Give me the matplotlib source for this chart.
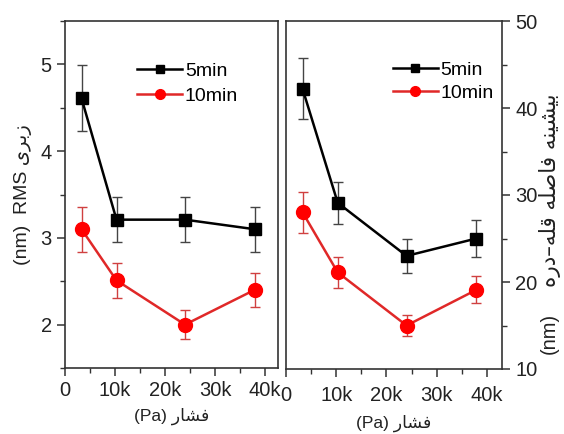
import numpy as np
import matplotlib
matplotlib.use("Agg")
import matplotlib.pyplot as plt
from matplotlib.ticker import MultipleLocator, FuncFormatter

plt.rcParams['font.family'] = ['Liberation Sans', 'DejaVu Sans']

# pressure (Pa)
pressure = [3300, 10300, 24000, 37900]

# RMS roughness (nm)
rms_5min = [4.61, 3.21, 3.21, 3.10]
rms_5min_err = [0.38, 0.26, 0.26, 0.26]
rms_10min = [3.10, 2.51, 2.00, 2.40]
rms_10min_err = [0.26, 0.20, 0.17, 0.20]

# max peak-to-valley distance (nm)
pv_5min = [42.2, 29.1, 23.0, 25.0]
pv_5min_err = [3.5, 2.45, 2.0, 2.1]
pv_10min = [28.0, 21.1, 15.0, 19.1]
pv_10min_err = [2.35, 1.75, 1.25, 1.55]

series_labels = ['5min', '10min']

# Persian labels in visual (pre-shaped) order
xlabel_txt = '(Pa) \uFEAD\uFE8E\uFEB8\uFED3'
ylabel_left = '(nm)  RMS \uFBFC\uFEAE\uFE91\uFEAF'
ylabel_right_fa = ('\uFEE9\uFEAD\uFEA9\u2013\uFEEA\uFEE0\uFED7 '
                   '\uFEEA\uFEE0\uFEBB\uFE8E\uFED3 '
                   '\uFEEA\uFEE8\uFBFF\uFEB8\uFBFF\uFE91')
ylabel_right_unit = '(nm)'

fig = plt.figure(figsize=(5.64, 4.34), dpi=100)
ax1 = fig.add_axes([65 / 564, 66 / 434, 212.5 / 564, 347 / 434])
ax2 = fig.add_axes([286 / 564, 65 / 434, 216 / 564, 348 / 434])

kfmt = FuncFormatter(lambda v, p: '0' if v == 0 else '%dk' % (v / 1000))


def draw(ax, y5, e5, y10, e10):
    # error bars first, then lines + markers on top
    ax.errorbar(pressure, y5, yerr=e5, fmt='none', ecolor='#444444',
                elinewidth=1, capsize=3.5, capthick=1, zorder=2)
    ax.errorbar(pressure, y10, yerr=e10, fmt='none', ecolor='#d04040',
                elinewidth=1, capsize=3.5, capthick=1, zorder=2)
    ax.plot(pressure, y5, color='black', lw=1.8, marker='s', ms=9,
            label=series_labels[0], zorder=3)
    ax.plot(pressure, y10, color='#e02828', lw=1.8, marker='o', ms=10,
            mfc='red', mec='red', label=series_labels[1], zorder=3)
    ax.xaxis.set_major_locator(MultipleLocator(10000))
    ax.xaxis.set_minor_locator(MultipleLocator(5000))
    ax.xaxis.set_major_formatter(kfmt)
    for s in ax.spines.values():
        s.set_color('#333333')
        s.set_linewidth(1.2)
    ax.tick_params(which='major', direction='out', length=6, width=1.1,
                   color='#333333', labelsize=14.5, labelcolor='#222222')
    ax.tick_params(which='minor', direction='out', length=3.5, width=1.0,
                   color='#333333')


draw(ax1, rms_5min, rms_5min_err, rms_10min, rms_10min_err)
ax1.set_xlim(0, 42500)
ax1.set_ylim(1.5, 5.5)
ax1.yaxis.set_major_locator(MultipleLocator(1))
ax1.yaxis.set_minor_locator(MultipleLocator(0.5))
ax1.tick_params(axis='x', pad=3)
ax1.set_ylabel(ylabel_left, fontsize=14, color='#222222', labelpad=6)
ax1.set_xlabel(xlabel_txt, fontsize=12.5, color='#222222', labelpad=6)
ax1.legend(loc='upper left', bbox_to_anchor=(0.34, 0.88), frameon=False,
           fontsize=14, handlelength=2.3, handletextpad=0.15,
           labelspacing=0.35, borderpad=0, borderaxespad=0, markerscale=0.7)

draw(ax2, pv_5min, pv_5min_err, pv_10min, pv_10min_err)
ax2.set_xlim(0, 43000)
ax2.set_ylim(10, 50)
ax2.yaxis.set_major_locator(MultipleLocator(10))
ax2.yaxis.set_minor_locator(MultipleLocator(5))
ax2.yaxis.tick_right()
ax2.tick_params(axis='x', pad=6)
ax2.set_xlabel(xlabel_txt, fontsize=12.5, color='#222222', labelpad=7)
ax2.legend(loc='upper left', bbox_to_anchor=(0.495, 0.885), frameon=False,
           fontsize=14, handlelength=2.3, handletextpad=0.15,
           labelspacing=0.3, borderpad=0, borderaxespad=0, markerscale=0.7)

# right-hand y label: Persian part and unit as separate rotated texts
fig.text(550 / 564, 1 - 190 / 434, ylabel_right_fa, rotation=90,
         ha='center', va='center', fontsize=15.5, color='#222222',
         family='DejaVu Sans')
fig.text(549 / 564, 1 - 333 / 434, ylabel_right_unit, rotation=90,
         ha='center', va='center', fontsize=14.5, color='#222222')

fig.savefig('out.png', dpi=100)
